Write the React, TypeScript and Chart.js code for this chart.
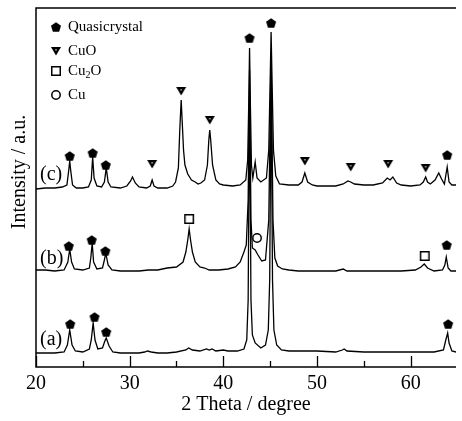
import React, { useEffect, useRef } from 'react';
import { Chart, registerables } from 'chart.js';

Chart.register(...registerables);

const FONT = '"Liberation Serif", "Times New Roman", serif';

// ---- axis ----
const X_MIN = 20;
const X_MAX = 64.84;
const Y_MIN = 0;
const Y_MAX = 359;
const xTickValues = [20, 25, 30, 35, 40, 45, 50, 55, 60];
const xTickLabels = ['20', '', '30', '', '40', '', '50', '', '60'];
const xTickMajor = [true, false, true, false, true, false, true, false, true];

// ---- trace (c) ----
const thetaC = [20.0, 21.0, 22.0, 22.8, 23.3, 23.5, 23.6, 23.7, 23.9, 24.3, 25.0, 25.6, 25.9, 26.05, 26.2, 26.5, 27.0, 27.3, 27.5, 27.7, 28.0, 29.0, 29.7, 30.1, 30.3, 30.6, 31.0, 31.8, 32.2, 32.4, 32.6, 33.0, 34.0, 34.6, 34.9, 35.2, 35.35, 35.5, 35.6, 35.75, 35.9, 36.2, 36.6, 37.0, 37.3, 37.6, 38.0, 38.3, 38.45, 38.55, 38.65, 38.85, 39.2, 39.6, 40.0, 41.0, 41.8, 42.4, 42.6, 42.72, 42.8, 42.88, 43.0, 43.15, 43.4, 43.6, 44.0, 44.6, 44.85, 45.0, 45.1, 45.2, 45.35, 45.6, 46.0, 47.0, 48.0, 48.4, 48.7, 49.0, 49.5, 50.0, 51.0, 52.0, 52.8, 53.3, 53.6, 54.0, 55.0, 56.0, 57.0, 57.5, 57.8, 58.1, 58.5, 59.0, 60.0, 61.0, 61.35, 61.6, 61.8, 62.1, 62.6, 63.0, 63.3, 63.6, 63.9, 64.1, 64.4, 64.84];
const intensityC = [178, 179, 179, 180, 182, 197, 206, 197, 182, 179, 179, 180, 187, 210, 189, 181, 180, 185, 199, 185, 180, 179, 181, 186, 190, 184, 180, 179, 181, 187, 181, 179, 179, 181, 185, 199, 237, 267, 247, 217, 202, 193, 187, 185, 183, 184, 187, 202, 227, 237, 227, 202, 187, 183, 182, 181, 182, 187, 207, 267, 319, 267, 202, 189, 205, 189, 185, 189, 217, 287, 335, 287, 217, 191, 183, 182, 182, 185, 194, 185, 182, 181, 181, 181, 183, 186, 185, 183, 182, 182, 184, 189, 187, 190, 184, 182, 181, 182, 185, 190, 185, 183, 187, 194, 188, 183, 200, 185, 182, 182];

// ---- trace (b) ----
const thetaB = [20.0, 21.0, 22.0, 23.0, 23.4, 23.6, 23.8, 24.1, 25.0, 25.7, 25.85, 26.0, 26.15, 26.5, 27.1, 27.3, 27.45, 27.7, 28.1, 29.0, 30.0, 31.0, 32.0, 33.0, 34.0, 35.0, 35.7, 36.0, 36.2, 36.35, 36.5, 36.7, 37.0, 37.5, 38.0, 38.5, 39.5, 40.5, 41.3, 41.8, 42.2, 42.45, 42.65, 42.8, 42.95, 43.1, 43.4, 43.7, 44.1, 44.5, 44.85, 45.1, 45.3, 45.5, 45.8, 46.3, 47.0, 48.0, 50.0, 52.0, 52.8, 53.2, 55.0, 57.0, 59.0, 60.5, 61.1, 61.45, 61.8, 62.5, 63.4, 63.65, 63.8, 64.0, 64.3, 64.84];
const intensityB = [97, 97, 96, 97, 105, 118, 105, 98, 97, 99, 109, 124, 105, 98, 99, 107, 114, 102, 97, 96, 96, 96, 97, 97, 99, 100, 105, 115, 127, 138, 127, 115, 105, 100, 99, 97, 97, 98, 100, 105, 115, 122, 167, 297, 147, 119, 117, 112, 106, 107, 147, 312, 147, 109, 101, 98, 97, 96, 96, 96, 98, 96, 96, 96, 96, 97, 100, 103, 99, 96, 97, 102, 110, 99, 96, 96];

// ---- trace (a) ----
const thetaA = [20.0, 21.0, 22.0, 23.0, 23.35, 23.6, 23.85, 24.2, 25.0, 25.7, 25.9, 26.1, 26.3, 26.6, 27.1, 27.35, 27.5, 27.8, 28.2, 29.0, 30.0, 31.0, 31.6, 31.9, 32.3, 33.0, 34.0, 35.0, 36.0, 36.3, 36.7, 37.5, 38.2, 38.5, 38.8, 39.2, 40.0, 40.5, 41.5, 42.2, 42.5, 42.65, 42.8, 42.95, 43.1, 43.4, 44.0, 44.5, 44.8, 44.95, 45.1, 45.25, 45.4, 45.7, 46.2, 47.0, 48.0, 50.0, 52.0, 52.7, 52.9, 53.2, 55.0, 57.0, 59.0, 61.0, 62.5, 63.5, 63.75, 63.95, 64.1, 64.4, 64.84];
const intensityA = [14, 14, 14, 15, 22, 37, 22, 16, 15, 18, 27, 44, 27, 18, 19, 26, 29, 21, 15, 14, 14, 14, 15, 16, 15, 14, 14, 15, 17, 19, 17, 16, 18, 17, 18, 16, 17, 16, 16, 18, 27, 67, 277, 67, 32, 24, 19, 22, 37, 87, 292, 87, 37, 22, 17, 16, 16, 16, 15, 17, 18, 16, 15, 15, 15, 15, 15, 17, 27, 34, 24, 16, 15];

// ---- phase markers ----
const quasiTheta = [23.6, 26.05, 27.45, 42.8, 45.1, 63.9, 23.5, 25.95, 27.4, 63.85, 23.65, 26.25, 27.5, 64.0];
const quasiY = [211, 214, 202, 329, 344, 212, 121, 127, 116, 122, 43, 50, 35, 43];
const cuoTheta = [32.4, 35.5, 38.55, 48.7, 53.6, 57.6, 61.6];
const cuoY = [203, 276, 247, 206, 200, 203, 199];
const cu2oTheta = [36.35, 61.5];
const cu2oY = [148, 111];
const cuTheta = [43.6];
const cuY = [129];

// ---- texts ----
const sampleLabels = ['(c)', '(b)', '(a)'];
const sampleLabelY = [192, 108, 27];
const legendNames = ['Quasicrystal', 'CuO', 'Cu2O', 'Cu'];
const xTitle = '2 Theta / degree';
const yTitle = 'Intensity / a.u.';

function mk(w: number, h: number, draw: (c: CanvasRenderingContext2D) => void) {
  const c = document.createElement('canvas');
  c.width = w;
  c.height = h;
  const ctx = c.getContext('2d')!;
  draw(ctx);
  return c;
}

function makePentagon() {
  return mk(12, 12, (ctx) => {
    ctx.fillStyle = '#000';
    ctx.beginPath();
    for (let i = 0; i < 5; i++) {
      const a = -Math.PI / 2 + (i * 2 * Math.PI) / 5;
      const x = 6 + 5.3 * Math.cos(a);
      const y = 6.5 + 5.3 * Math.sin(a);
      if (i === 0) ctx.moveTo(x, y);
      else ctx.lineTo(x, y);
    }
    ctx.closePath();
    ctx.fill();
  });
}

function makeTriangle() {
  return mk(12, 12, (ctx) => {
    ctx.fillStyle = '#000';
    ctx.beginPath();
    ctx.moveTo(1, 2);
    ctx.lineTo(11, 2);
    ctx.lineTo(6, 10.5);
    ctx.closePath();
    ctx.fill();
    ctx.fillStyle = '#fff';
    ctx.fillRect(5.5, 4, 1, 1.5);
  });
}

function makeSquare() {
  return mk(12, 12, (ctx) => {
    ctx.strokeStyle = '#000';
    ctx.lineWidth = 1.5;
    ctx.strokeRect(1.75, 1.75, 8.5, 8.5);
  });
}

function makeCircle() {
  return mk(12, 12, (ctx) => {
    ctx.strokeStyle = '#000';
    ctx.lineWidth = 1.5;
    ctx.beginPath();
    ctx.arc(6, 6, 4.2, 0, Math.PI * 2);
    ctx.stroke();
  });
}

export default function App() {
  const ref = useRef<HTMLCanvasElement>(null);

  useEffect(() => {
    const canvas = ref.current;
    if (!canvas) return;
    const pent = makePentagon();
    const tri = makeTriangle();
    const sq = makeSquare();
    const circ = makeCircle();
    const toXY = (xs: number[], ys: number[]) => xs.map((x, i) => ({ x, y: ys[i] }));

    const markerDS = (xs: number[], ys: number[], style: HTMLCanvasElement) => ({
      type: 'scatter' as const,
      data: toXY(xs, ys),
      pointStyle: style,
      pointRadius: 5,
      showLine: false,
    });
    const lineDS = (xs: number[], ys: number[]) => ({
      type: 'line' as const,
      data: toXY(xs, ys),
      borderColor: '#000',
      borderWidth: 1.3,
      pointRadius: 0,
      tension: 0,
      fill: false,
    });

    const deco = {
      id: 'deco',
      afterDraw(chart: any) {
        const ctx: CanvasRenderingContext2D = chart.ctx;
        const { left, right, top, bottom } = chart.chartArea;
        const xs = chart.scales.x;
        const ys = chart.scales.y;
        ctx.save();
        // frame
        ctx.strokeStyle = '#000';
        ctx.lineWidth = 1.5;
        ctx.beginPath();
        ctx.moveTo(right, top);
        ctx.lineTo(left, top);
        ctx.lineTo(left, bottom);
        ctx.lineTo(right, bottom);
        ctx.stroke();
        // inward ticks
        ctx.lineWidth = 1.3;
        xTickValues.forEach((v, i) => {
          const px = Math.round(xs.getPixelForValue(v)) + 0.5;
          const len = xTickMajor[i] ? 11 : 6;
          ctx.beginPath();
          ctx.moveTo(px, bottom);
          ctx.lineTo(px, bottom - len);
          ctx.stroke();
        });
        // sample labels
        ctx.fillStyle = '#000';
        ctx.font = `20px ${FONT}`;
        ctx.textAlign = 'left';
        ctx.textBaseline = 'middle';
        sampleLabels.forEach((t, i) => {
          ctx.fillText(t, left + 4, ys.getPixelForValue(sampleLabelY[i]));
        });
        // legend
        const icons = [pent, tri, sq, circ];
        const rowY = [27, 51, 71, 95];
        ctx.font = `15px ${FONT}`;
        legendNames.forEach((name, i) => {
          const cy = rowY[i];
          const ic = icons[i];
          ctx.drawImage(ic, left + 20 - 6, cy - 6);
          const tx = left + 32;
          if (name === 'Cu2O') {
            ctx.font = `15px ${FONT}`;
            ctx.fillText('Cu', tx, cy);
            const w1 = ctx.measureText('Cu').width;
            ctx.font = `10px ${FONT}`;
            ctx.fillText('2', tx + w1, cy + 4);
            const w2 = ctx.measureText('2').width;
            ctx.font = `15px ${FONT}`;
            ctx.fillText('O', tx + w1 + w2, cy);
          } else {
            ctx.fillText(name, tx, cy);
          }
        });
        // y title
        ctx.font = `20px ${FONT}`;
        ctx.translate(20, 172);
        ctx.rotate(-Math.PI / 2);
        ctx.textAlign = 'center';
        ctx.textBaseline = 'middle';
        ctx.fillText(yTitle, 0, 0);
        ctx.restore();
      },
    };

    const chart = new Chart(canvas, {
      type: 'line',
      data: {
        datasets: [
          markerDS(quasiTheta, quasiY, pent),
          markerDS(cuoTheta, cuoY, tri),
          markerDS(cu2oTheta, cu2oY, sq),
          markerDS(cuTheta, cuY, circ),
          lineDS(thetaC, intensityC),
          lineDS(thetaB, intensityB),
          lineDS(thetaA, intensityA),
        ] as any,
      },
      options: {
        animation: false,
        responsive: false,
        devicePixelRatio: 1,
        layout: { padding: { left: 36, top: 8, right: 0, bottom: 0 } },
        plugins: { legend: { display: false }, tooltip: { enabled: false } },
        scales: {
          x: {
            type: 'linear',
            min: X_MIN,
            max: X_MAX,
            afterBuildTicks: (s: any) => {
              s.ticks = xTickValues.map((v) => ({ value: v }));
            },
            afterFit: (s: any) => {
              s.height = 54;
            },
            grid: { display: false, drawTicks: false },
            border: { display: false },
            ticks: {
              autoSkip: false,
              maxRotation: 0,
              padding: 5,
              color: '#000',
              font: { family: FONT, size: 20 },
              callback: (_v: any, i: number) => xTickLabels[i],
            },
            title: {
              display: true,
              text: xTitle,
              color: '#000',
              font: { family: FONT, size: 20 },
              padding: { top: 0, bottom: 4 },
            },
          },
          y: { display: false, min: Y_MIN, max: Y_MAX },
        },
      },
      plugins: [deco],
    } as any);
    return () => chart.destroy();
  }, []);

  return (
    <div style={{ position: 'fixed', left: 0, top: 0, width: 462, height: 421, background: '#fff' }}>
      <canvas ref={ref} width={462} height={421} style={{ display: 'block' }} />
    </div>
  );
}
